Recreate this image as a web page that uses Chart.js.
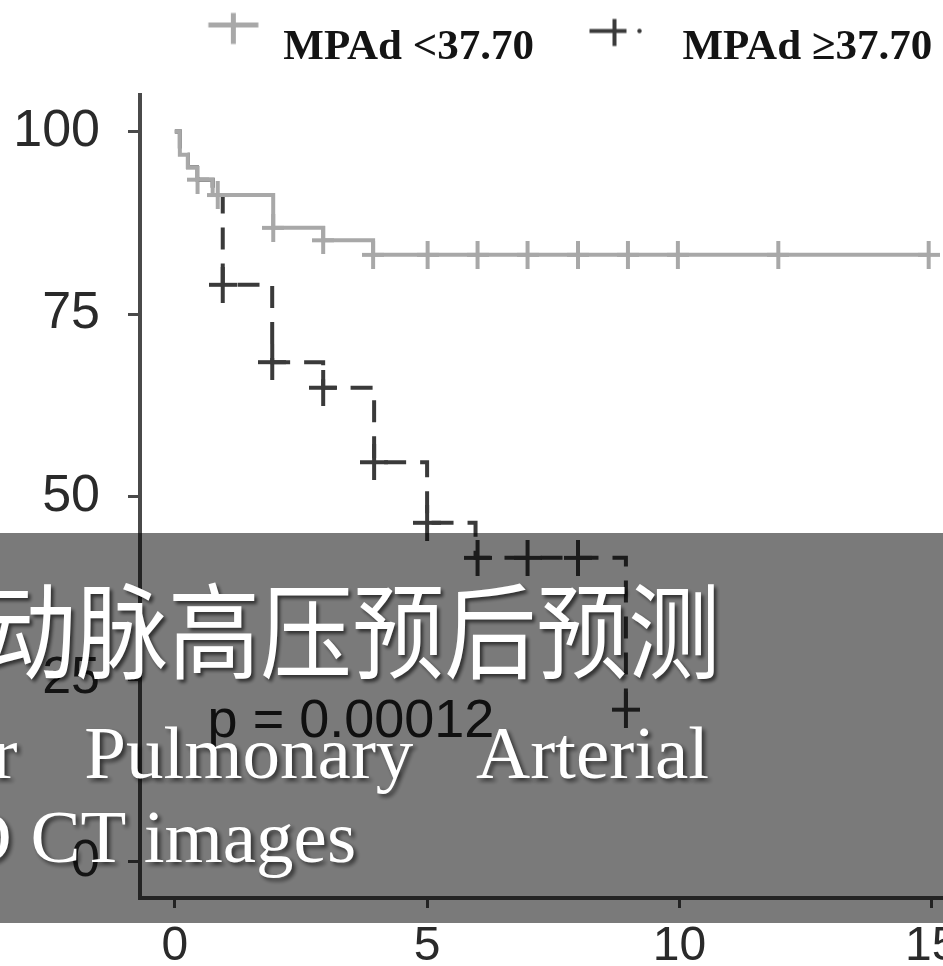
<!DOCTYPE html>
<html>
<head>
<meta charset="utf-8">
<script src="https://cdn.jsdelivr.net/npm/chart.js@4.4.0/dist/chart.umd.min.js"></script>
<style>
html,body{margin:0;padding:0;width:943px;height:966px;overflow:hidden;background:#fff;}
#wrap{position:absolute;left:0;top:0;width:1089px;height:966px;}
#banner{position:absolute;left:0;top:533px;width:943px;height:390px;background:rgba(0,0,0,0.52);overflow:hidden;}
#banner div{position:absolute;color:#fff;white-space:nowrap;text-shadow:3px 3px 4px rgba(0,0,0,0.6);}
.zh{left:-108px;top:41px;font-family:"Noto Sans CJK SC";font-size:104px;line-height:104px;transform:scaleX(0.885);transform-origin:0 0;}
.en{font-family:"Liberation Serif";font-size:75px;line-height:75px;}
.en1{left:-70px;top:182px;word-spacing:48px;}
.en2{left:-80px;top:266px;}
</style>
</head>
<body>
<div id="wrap"><canvas id="c" width="1089" height="966"></canvas></div>
<div id="banner">
  <div class="zh">肺动脉高压预后预测</div>
  <div class="en en1">for Pulmonary Arterial</div>
  <div class="en en2">3D CT images</div>
</div>
<script>
// ---- data ----
const seriesNames = ['MPAd <37.70', 'MPAd \u226537.70'];
const lowTimes  = [0, 0.1, 0.26, 0.44, 0.75, 1.95, 2.94, 3.93, 14.96];
const lowSurv   = [100, 96.8, 95.1, 93.4, 91.3, 86.8, 85.1, 83.1, 83.1];
const lowCensorTimes = [0.45, 0.85, 1.95, 2.94, 3.93, 5.01, 6.0, 6.99, 7.99, 8.98, 9.97, 11.96, 14.94];
const lowCensorSurv  = [93.4, 91.3, 86.8, 85.1, 83.1, 83.1, 83.1, 83.1, 83.1, 83.1, 83.1, 83.1, 83.1];
const highTimes = [0, 0.1, 0.26, 0.44, 0.75, 0.95, 1.93, 2.94, 3.95, 5.0, 5.96, 8.94];
const highSurv  = [100, 96.8, 95.1, 93.4, 91.3, 79.0, 68.4, 64.9, 54.7, 46.4, 41.6, 20.8];
const highCensorTimes = [0.95, 1.93, 2.94, 3.95, 5.0, 6.0, 6.99, 7.99, 8.94];
const highCensorSurv  = [79.0, 68.4, 64.9, 54.7, 46.4, 41.6, 41.6, 41.6, 20.8];
const xTicks = [0, 5, 10, 15];
const yTicks = [0, 25, 50, 75, 100];
const pText = 'p = 0.00012';

// ---- styles / layout ----
const LIGHT = '#a8a8a8', DARK = '#3a3a3a', AXIS = '#4a4a4a';
const xMin = -0.69, xMax = 17.9, yMin = -5, yMax = 105;
const pPos = [0.65, 17.05];

function makeCross(w, h, color, lw) {
  const c = document.createElement('canvas');
  c.width = w; c.height = h;
  const g = c.getContext('2d');
  g.strokeStyle = color; g.lineWidth = lw; g.lineCap = 'butt';
  g.beginPath();
  g.moveTo(0, h / 2); g.lineTo(w, h / 2);
  g.moveTo(w / 2, 0); g.lineTo(w / 2, h);
  g.stroke();
  return c;
}
const crossLight = makeCross(22, 28, LIGHT, 4);
const crossDark = makeCross(28, 36, DARK, 4);

function legendLow() {
  const c = document.createElement('canvas');
  c.width = 105; c.height = 80;
  const g = c.getContext('2d');
  g.strokeStyle = LIGHT; g.lineWidth = 5;
  g.beginPath();
  g.moveTo(51.5, 17.5); g.lineTo(101.5, 17.5);
  g.moveTo(76.5, 5.5); g.lineTo(76.5, 36.5);
  g.stroke();
  return c;
}
function legendHigh() {
  const c = document.createElement('canvas');
  c.width = 105; c.height = 80;
  const g = c.getContext('2d');
  g.strokeStyle = DARK; g.lineWidth = 4;
  g.beginPath();
  g.moveTo(33.5, 23.5); g.lineTo(70.5, 23.5);
  g.moveTo(58.5, 11.5); g.lineTo(58.5, 38.5);
  g.stroke();
  g.fillStyle = DARK;
  g.beginPath(); g.arc(83.5, 23.5, 2.2, 0, Math.PI * 2); g.fill();
  return c;
}
const legImgs = [legendLow(), legendHigh()];

const pts = (xs, ys) => xs.map((t, i) => ({x: t, y: ys[i]}));

const legendSpace = {
  id: 'legendSpace',
  afterInit(chart) {
    const lg = chart.legend;
    if (!lg) return;
    const f = lg.fit;
    lg.fit = function () { f.call(this); this.height = 91; };
  }
};
const pValue = {
  id: 'pValue',
  afterDatasetsDraw(chart) {
    const {ctx, scales: {x, y}} = chart;
    ctx.save();
    ctx.font = '54px "Liberation Sans"';
    ctx.fillStyle = '#222';
    ctx.textAlign = 'left';
    ctx.textBaseline = 'alphabetic';
    ctx.fillText(pText, x.getPixelForValue(pPos[0]), y.getPixelForValue(pPos[1]));
    ctx.restore();
  }
};

new Chart(document.getElementById('c'), {
  type: 'line',
  data: {
    datasets: [
      {label: seriesNames[0], data: pts(lowTimes, lowSurv), borderColor: LIGHT, borderWidth: 4,
       stepped: true, pointRadius: 0, pointHoverRadius: 0, fill: false},
      {label: seriesNames[1], data: pts(highTimes, highSurv), borderColor: DARK, borderWidth: 4,
       borderDash: [22, 14], stepped: true, pointRadius: 0, pointHoverRadius: 0, fill: false},
      {label: 'censor-low', data: pts(lowCensorTimes, lowCensorSurv), showLine: false,
       pointStyle: crossLight, pointRadius: 10, borderColor: LIGHT},
      {label: 'censor-high', data: pts(highCensorTimes, highCensorSurv), showLine: false,
       pointStyle: crossDark, pointRadius: 10, borderColor: DARK}
    ]
  },
  options: {
    responsive: false,
    animation: false,
    devicePixelRatio: 1,
    layout: {padding: {left: 0, right: 0, top: 4, bottom: 0}},
    plugins: {
      tooltip: {enabled: false},
      legend: {
        display: true,
        position: 'top',
        labels: {
          usePointStyle: true,
          pointStyleWidth: 105,
          padding: 22,
          color: '#141414',
          font: {family: '"Liberation Serif"', size: 43, weight: 'bold', lineHeight: 1},
          generateLabels: () => seriesNames.map((n, i) => ({
            text: n, pointStyle: legImgs[i], fillStyle: 'rgba(0,0,0,0)', strokeStyle: 'rgba(0,0,0,0)',
            lineWidth: 0, hidden: false, datasetIndex: i, fontColor: '#141414'
          }))
        }
      }
    },
    scales: {
      x: {
        type: 'linear', min: xMin, max: xMax,
        afterBuildTicks: s => { s.ticks = xTicks.map(v => ({value: v})); },
        afterFit: s => { s.height = 68; s.paddingLeft = 0; s.paddingRight = 0; },
        grid: {display: true, drawOnChartArea: false, drawTicks: true, tickLength: 10, color: AXIS, lineWidth: 3},
        border: {display: true, color: AXIS, width: 4},
        ticks: {autoSkip: false, maxRotation: 0, padding: 10, color: '#2a2a2a',
                font: {family: '"Liberation Sans"', size: 48}}
      },
      y: {
        type: 'linear', min: yMin, max: yMax,
        afterBuildTicks: s => { s.ticks = yTicks.map(v => ({value: v})); },
        afterFit: s => { s.width = 140; s.paddingTop = 0; s.paddingBottom = 0; },
        grid: {display: true, drawOnChartArea: false, drawTicks: true, tickLength: 12, color: AXIS, lineWidth: 3},
        border: {display: true, color: AXIS, width: 4},
        ticks: {padding: 28, color: '#2a2a2a', font: {family: '"Liberation Sans"', size: 52}}
      }
    }
  },
  plugins: [legendSpace, pValue]
});
</script>
</body>
</html>
